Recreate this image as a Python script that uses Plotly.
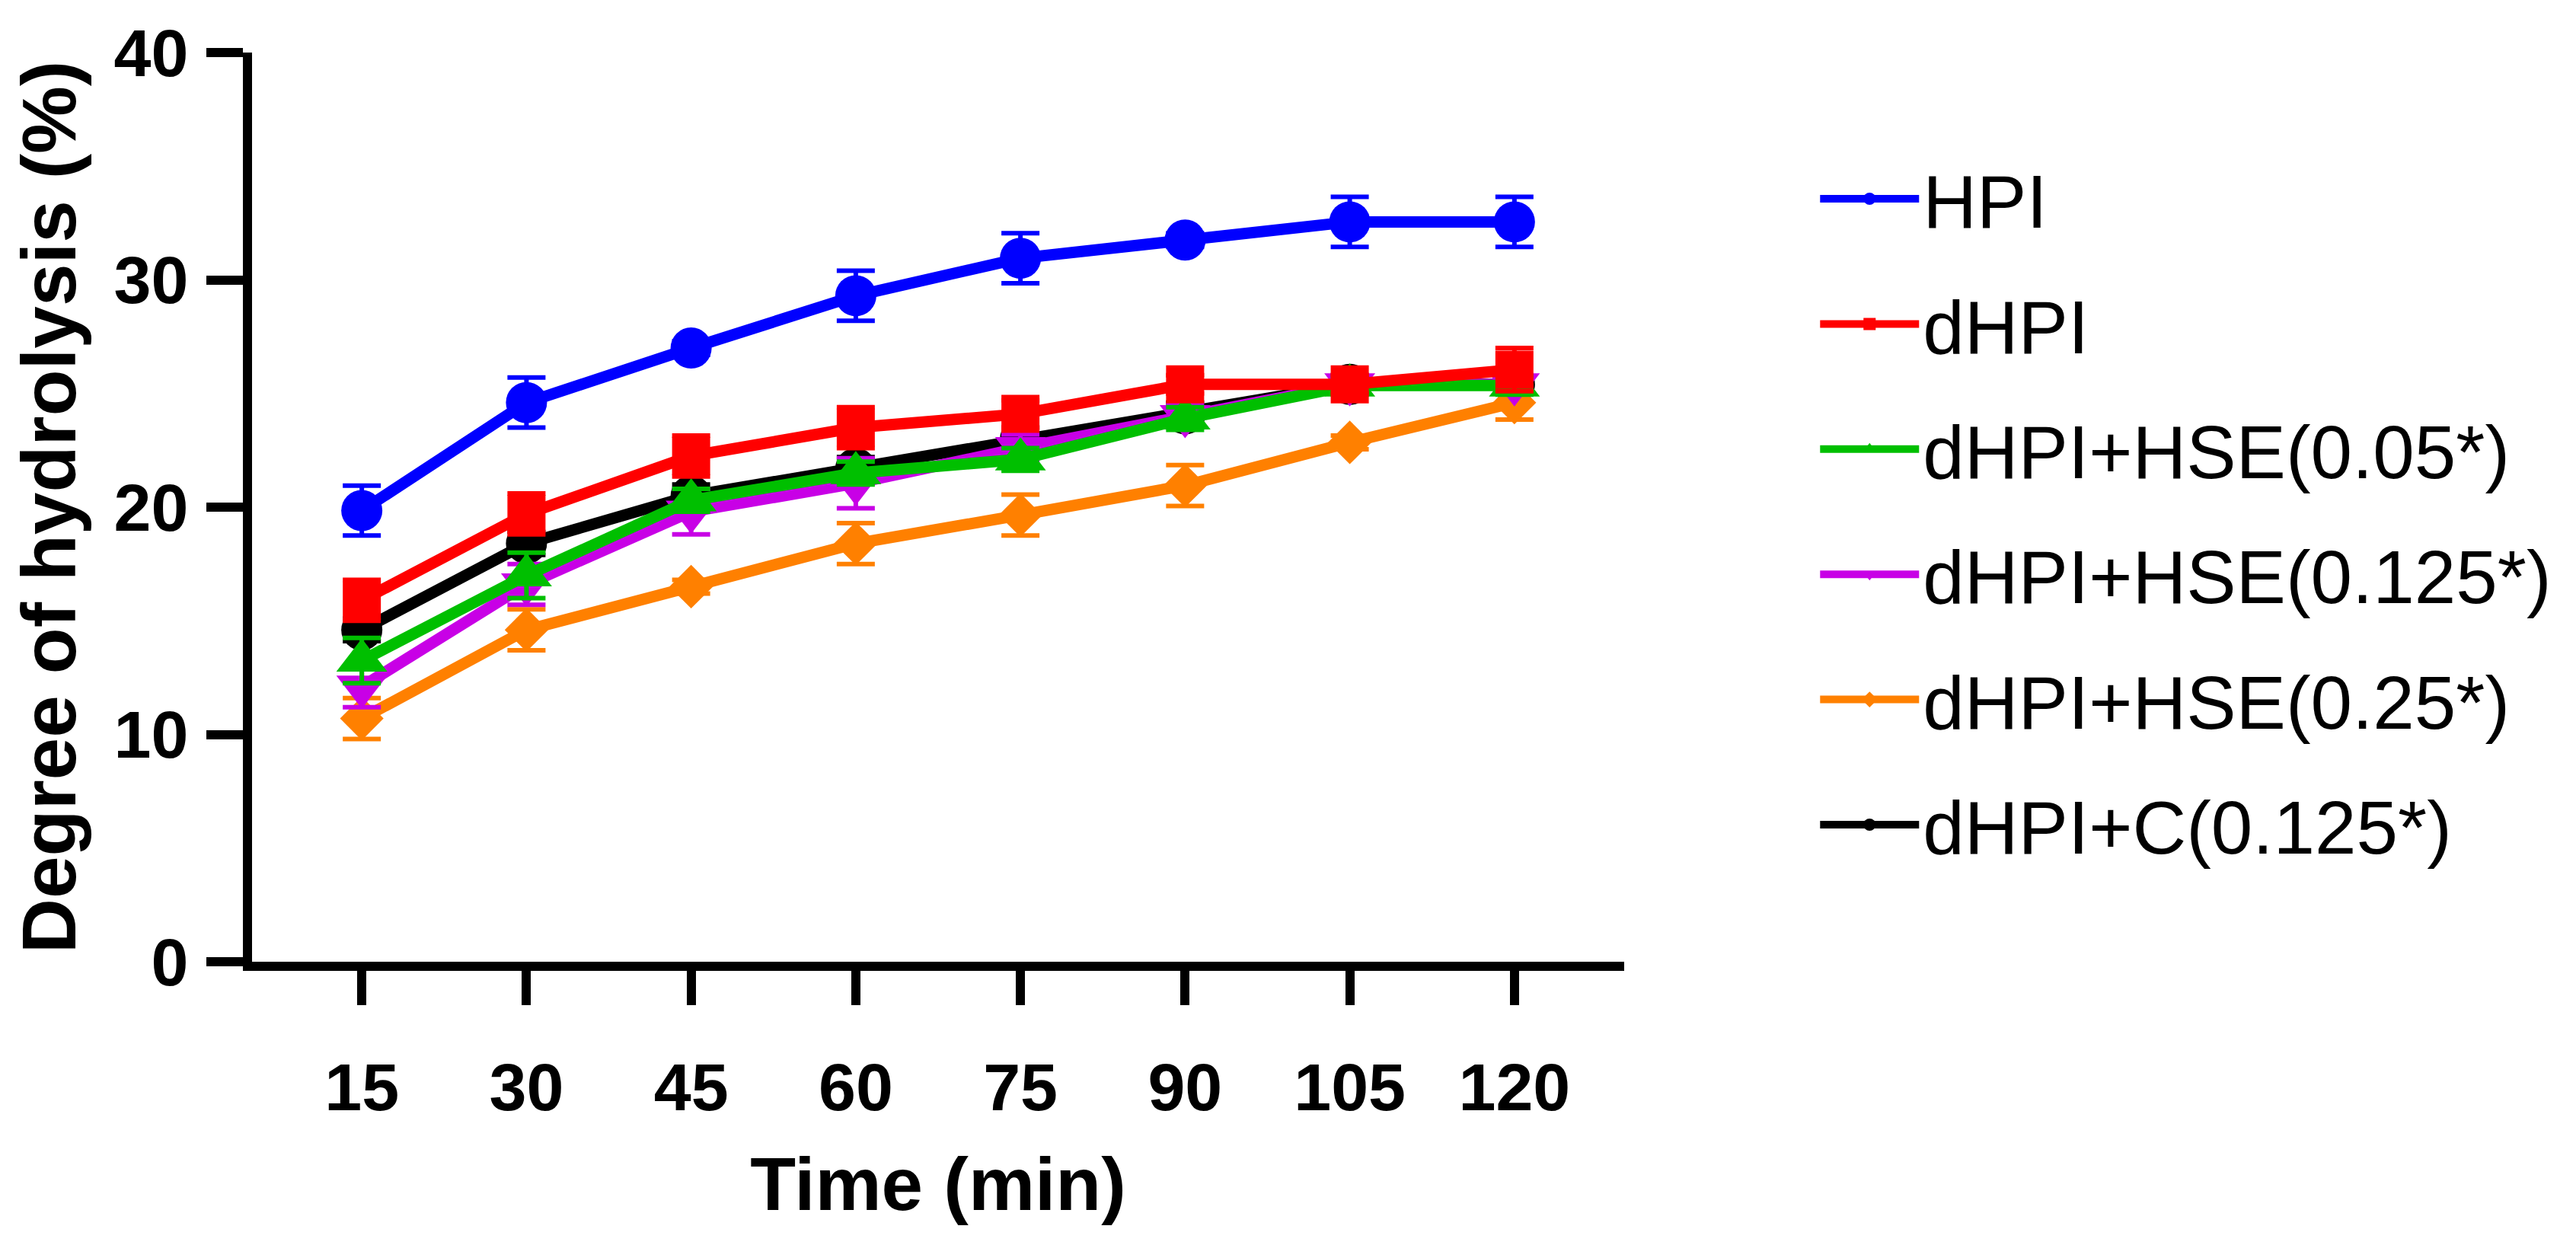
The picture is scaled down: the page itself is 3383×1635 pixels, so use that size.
import plotly.graph_objects as go

time_min = [15, 30, 45, 60, 75, 90, 105, 120]

series_names = ["HPI", "dHPI", "dHPI+HSE(0.05*)", "dHPI+HSE(0.125*)",
                "dHPI+HSE(0.25*)", "dHPI+C(0.125*)"]

hpi = [19.85, 24.6, 27.0, 29.3, 30.95, 31.75, 32.55, 32.55]
hpi_err = [1.1, 1.1, 0.3, 1.1, 1.1, 0.3, 1.1, 1.1]

dhpi = [15.9, 19.7, 22.25, 23.5, 24.1, 25.4, 25.4, 26.05]
dhpi_err = [0.9, 0.9, 0.9, 0.9, 0.6, 0.4, 0.4, 0.95]

hse005 = [13.25, 17.0, 20.3, 21.5, 22.1, 23.9, 25.35, 25.35]
hse005_err = [1.0, 1.0, 0.5, 0.5, 0.5, 0.5, 0.4, 0.4]

hse0125 = [12.1, 16.6, 19.8, 21.05, 22.6, 24.0, 25.4, 25.4]
hse0125_err = [0.9, 0.9, 1.0, 1.1, 0.6, 0.5, 0.4, 0.4]

hse025 = [10.7, 14.6, 16.5, 18.4, 19.65, 20.95, 22.85, 24.6]
hse025_err = [0.9, 0.9, 0.3, 0.9, 0.9, 0.9, 0.3, 0.75]

c0125 = [14.6, 18.4, 20.5, 21.7, 23.0, 24.1, 25.4, 25.4]
c0125_err = [0.5, 0.5, 0.5, 0.5, 0.5, 0.5, 0.4, 0.4]

colors = ["#0000FF", "#FF0000", "#00BF00", "#C800E6", "#FF8000", "#000000"]
symbols = ["circle", "square", "triangle-up", "triangle-down", "diamond", "circle"]
msizes = [54, 50, 58, 58, 44, 54]

values = [hpi, dhpi, hse005, hse0125, hse025, c0125]
errors = [hpi_err, dhpi_err, hse005_err, hse0125_err, hse025_err, c0125_err]

# drawing order (bottom -> top)
draw_order = [5, 4, 3, 2, 1, 0]

FONT = "Arial, 'Liberation Sans', sans-serif"

fig = go.Figure()
for i in draw_order:
    fig.add_trace(go.Scatter(
        x=time_min, y=values[i],
        mode="lines+markers",
        name=series_names[i],
        legendrank=i + 1,
        legendgroup=series_names[i],
        line=dict(color=colors[i], width=15),
        marker=dict(color=colors[i], symbol=symbols[i], size=msizes[i],
                    line=dict(width=0)),
        error_y=dict(type="data", array=errors[i], visible=True,
                     color=colors[i], thickness=6, width=25),
    ))

fig.update_layout(
    width=3383, height=1635, autosize=False,
    paper_bgcolor="white", plot_bgcolor="white",
    margin=dict(l=323, r=1258, t=58, b=380),
    font=dict(family=FONT, color="black"),
    showlegend=True,
    legend=dict(
        x=1.14, y=0.898, xanchor="left", yanchor="top",
        font=dict(family=FONT, size=98, color="black"),
        itemwidth=130,
        itemsizing="trace",
        tracegroupgap=34,
        bgcolor="rgba(0,0,0,0)",
    ),
)

fig.update_xaxes(
    range=[5, 130], tickmode="array", tickvals=time_min,
    ticktext=[str(t) for t in time_min],
    showline=True, linewidth=12, linecolor="black",
    ticks="outside", ticklen=45, tickwidth=12, tickcolor="black",
    tickfont=dict(family=FONT, size=88, color="black", weight="bold"),
    ticklabelstandoff=32,
    showgrid=False, zeroline=False,
    title=dict(text="Time (min)", standoff=50,
               font=dict(family=FONT, size=98, color="black", weight="bold")),
)
fig.update_yaxes(
    range=[0, 40], tickmode="array", tickvals=[0, 10, 20, 30, 40],
    showline=True, linewidth=12, linecolor="black",
    ticks="outside", ticklen=48, tickwidth=12, tickcolor="black",
    tickfont=dict(family=FONT, size=88, color="black", weight="bold"),
    ticklabelstandoff=6,
    showgrid=False, zeroline=False,
    title=dict(text="Degree of hydrolysis (%)", standoff=36,
               font=dict(family=FONT, size=100, color="black", weight="bold")),
)

fig.write_html("out.html")
